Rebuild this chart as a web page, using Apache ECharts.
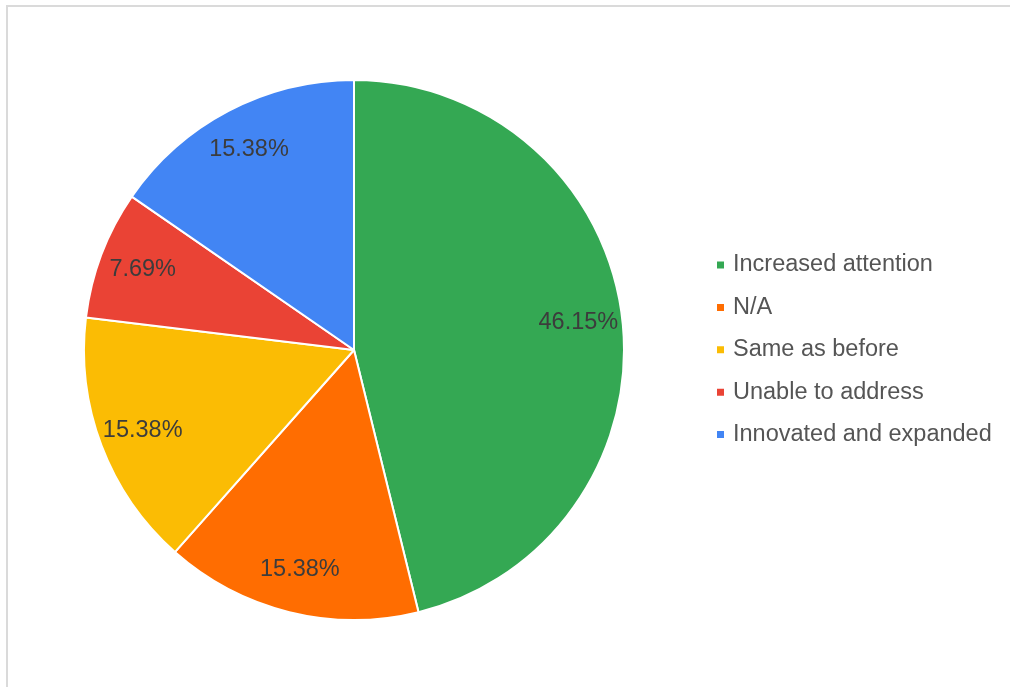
<!DOCTYPE html>
<html>
<head>
<meta charset="utf-8">
<script src="https://cdn.jsdelivr.net/npm/echarts@6/dist/echarts.min.js"></script>
<style>
  html, body { margin: 0; padding: 0; background: #ffffff; }
  #chart { width: 1010px; height: 687px; }
</style>
</head>
<body>
<div id="chart"></div>
<script>
// Survey responses, share of answers (%)
const categories = ['Increased attention', 'N/A', 'Same as before', 'Unable to address', 'Innovated and expanded'];
const shares = [46.15, 15.38, 15.38, 7.69, 15.38];
const colors = ['#34A853', '#FF6D01', '#FBBC04', '#EA4335', '#4285F4'];

const pieData = categories.map((name, i) => ({
  name: name,
  value: shares[i],
  itemStyle: { color: colors[i] }
}));

const center = [354, 350];
const outerR = 270;

const chart = echarts.init(document.getElementById('chart'), null, { renderer: 'canvas' });
chart.setOption({
  backgroundColor: '#ffffff',
  animation: false,
  graphic: [
    // light frame along the top and left edges
    { type: 'rect', shape: { x: 6, y: 5, width: 1010, height: 2 }, style: { fill: '#dadada' }, silent: true },
    { type: 'rect', shape: { x: 6, y: 5, width: 2, height: 700 }, style: { fill: '#dadada' }, silent: true }
  ],
  legend: {
    orient: 'vertical',
    left: 715,
    top: 253,
    padding: 0,
    itemWidth: 9,
    itemHeight: 9,
    itemGap: 18.4,
    icon: 'rect',
    selectedMode: false,
    data: categories,
    textStyle: {
      fontFamily: 'Liberation Sans, Arial, sans-serif',
      fontSize: 23.5,
      lineHeight: 24,
      color: '#555555',
      padding: [0, 0, 0, 3]
    }
  },
  series: [
    {
      // filled slices
      type: 'pie',
      center: center,
      radius: [0, outerR],
      startAngle: 90,
      clockwise: true,
      silent: true,
      label: { show: false },
      labelLine: { show: false },
      itemStyle: { borderColor: '#ffffff', borderWidth: 2 },
      data: pieData
    },
    {
      // transparent ring carrying the percentage labels near the rim
      type: 'pie',
      center: center,
      radius: [176, outerR],
      startAngle: 90,
      clockwise: true,
      silent: true,
      legendHoverLink: false,
      itemStyle: { color: 'rgba(0,0,0,0)', borderWidth: 0 },
      label: {
        show: true,
        position: 'inside',
        formatter: p => p.value.toFixed(2) + '%',
        fontFamily: 'Liberation Sans, Arial, sans-serif',
        fontSize: 23.5,
        color: '#3c3c3c'
      },
      labelLine: { show: false },
      data: categories.map((name, i) => ({ name: name, value: shares[i] }))
    }
  ]
});
</script>
</body>
</html>
